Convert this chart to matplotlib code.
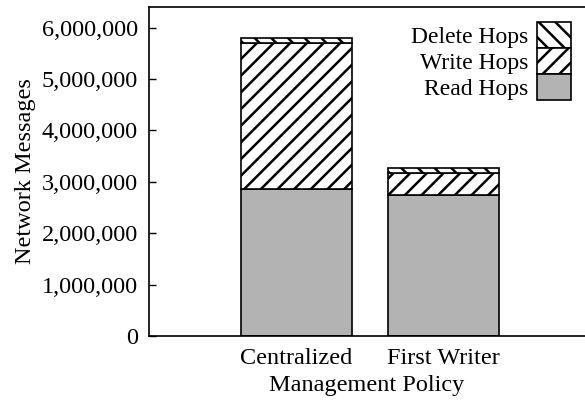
import numpy as np
import matplotlib
matplotlib.use("Agg")
import matplotlib.pyplot as plt
from matplotlib.ticker import StrMethodFormatter

plt.rcParams['font.family'] = 'Liberation Serif'
plt.rcParams['hatch.linewidth'] = 1.8

# data
policies = ["Centralized", "First Writer"]
read_hops = [2850000, 2745000]
write_hops = [2850000, 435000]
delete_hops = [95000, 80000]

x = np.arange(len(policies))
read_arr = np.array(read_hops)
write_arr = np.array(write_hops)
delete_arr = np.array(delete_hops)

fs = 17.5

fig = plt.figure(figsize=(5.85, 4), dpi=100)
ax = fig.add_axes([0.2547, 0.16, 0.7453, 0.8225])

w = 0.75
b_read = ax.bar(x, read_arr, w, color='#b3b3b3', edgecolor='black', linewidth=1.2, label='Read Hops')
b_write = ax.bar(x, write_arr, w, bottom=read_arr, color='white', edgecolor='black',
                 linewidth=1.2, hatch='//', label='Write Hops')
b_del = ax.bar(x, delete_arr, w, bottom=read_arr + write_arr, color='white', edgecolor='black',
               linewidth=1.2, hatch='\\\\', label='Delete Hops')

ax.set_xlim(-1.0, 1.96)
ax.set_ylim(0, 6400000)
ax.set_yticks(np.arange(0, 6000001, 1000000))
ax.yaxis.set_major_formatter(StrMethodFormatter('{x:,.0f}'))
ax.set_xticks(x)
ax.set_xticklabels(policies)

ax.tick_params(axis='y', direction='in', length=5, width=1, labelsize=fs, pad=8)
ax.tick_params(axis='x', length=0, labelsize=fs, pad=9)
ax.spines['right'].set_visible(False)
for s in ['left', 'bottom', 'top']:
    ax.spines[s].set_linewidth(1.2)

ax.set_ylabel('Network Messages', fontsize=fs, labelpad=4)
ax.set_xlabel('Management Policy', fontsize=fs, labelpad=4)

leg = ax.legend(handles=[b_del, b_write, b_read], loc='upper right', bbox_to_anchor=(1.005, 1.005),
                frameon=False, markerfirst=False, fontsize=17, handlelength=1.44,
                handleheight=1.32, labelspacing=0.0, handletextpad=0.35, borderpad=0.2)

plt.savefig('out.png', dpi=100)
